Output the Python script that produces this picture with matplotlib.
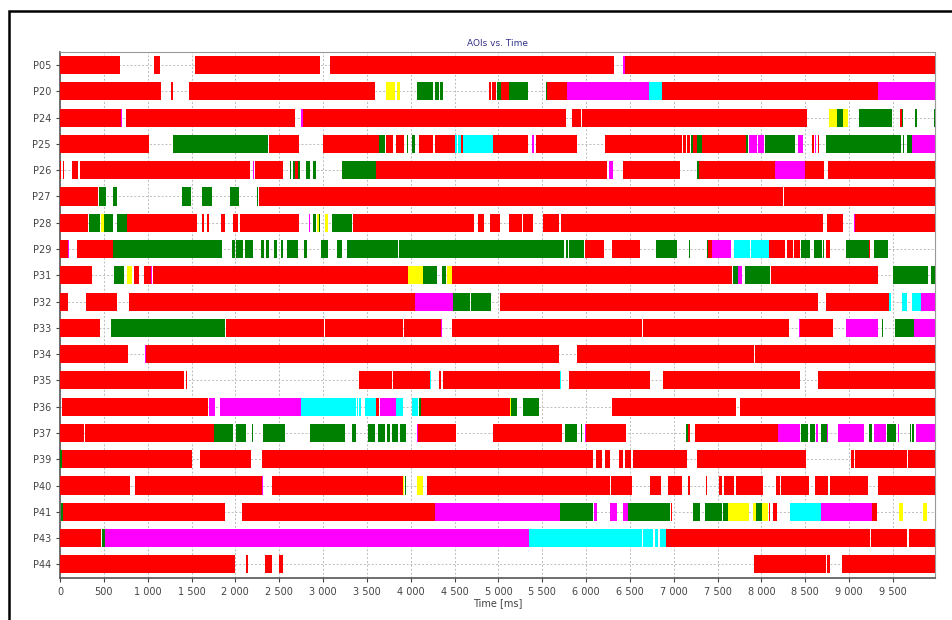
import matplotlib.pyplot as plt
from matplotlib.patches import Rectangle

# AOI colour codes
aoi_colors = {'R': '#ff0000', 'G': '#008000', 'M': '#ff00ff', 'C': '#00ffff', 'Y': '#ffff00'}

participants = ['P05', 'P20', 'P24', 'P25', 'P26', 'P27', 'P28', 'P29', 'P31', 'P32',
                'P33', 'P34', 'P35', 'P36', 'P37', 'P39', 'P40', 'P41', 'P43', 'P44']

# (start ms, end ms, AOI)
p05 = [(0, 685, 'R'), (1072, 1141, 'R'), (1540, 2966, 'R'), (3080, 6324, 'R'), (6420, 6445, 'M'), (6445, 9980, 'R')]
p20 = [(0, 1148, 'R'), (1270, 1293, 'R'), (1472, 3598, 'R'), (3720, 3822, 'Y'), (3848, 3879, 'Y'), (4075, 4259, 'G'),
       (4282, 4320, 'G'), (4335, 4365, 'G'), (4898, 4921, 'R'), (4932, 4974, 'R'), (4982, 5028, 'G'), (5031, 5126, 'R'),
       (5126, 5343, 'G'), (5544, 5555, 'G'), (5555, 5780, 'R'), (5780, 6719, 'M'), (6719, 6864, 'C'), (6864, 7112, 'R'),
       (7118, 9335, 'R'), (9335, 9980, 'M')]
p24 = [(0, 692, 'R'), (692, 705, 'M'), (753, 2685, 'R'), (2750, 2773, 'M'), (2773, 5769, 'R'), (5837, 5945, 'R'),
       (5955, 8518, 'R'), (8776, 8859, 'Y'), (8863, 8935, 'G'), (8935, 8985, 'Y'), (9115, 9487, 'G'), (9487, 9495, 'Y'),
       (9582, 9600, 'R'), (9600, 9620, 'G'), (9753, 9772, 'G'), (9965, 9980, 'G')]
p25 = [(0, 1015, 'R'), (1293, 1410, 'G'), (1418, 2369, 'G'), (2381, 2731, 'R'), (2997, 3643, 'R'), (3643, 3708, 'G'),
       (3716, 3803, 'R'), (3833, 3925, 'R'), (3955, 3970, 'G'), (4012, 4046, 'G'), (4092, 4259, 'R'), (4278, 4506, 'R'),
       (4506, 4525, 'C'), (4545, 4570, 'C'), (4575, 4594, 'R'), (4594, 4943, 'C'), (4943, 5335, 'R'), (5384, 5407, 'M'),
       (5426, 5898, 'R'), (6213, 7091, 'R'), (7105, 7140, 'R'), (7150, 7187, 'R'), (7195, 7225, 'G'), (7225, 7260, 'R'),
       (7265, 7320, 'G'), (7320, 7825, 'R'), (7830, 7850, 'G'), (7856, 7955, 'M'), (7962, 8031, 'M'), (8039, 8385, 'G'),
       (8415, 8473, 'M'), (8580, 8600, 'R'), (8610, 8625, 'M'), (8640, 8662, 'R'), (8738, 9595, 'G'), (9610, 9625, 'G'),
       (9662, 9723, 'G'), (9723, 9980, 'M')]
p26 = [(0, 12, 'R'), (30, 45, 'R'), (141, 209, 'R'), (228, 2168, 'R'), (2205, 2215, 'M'), (2225, 2548, 'R'),
       (2624, 2640, 'G'), (2655, 2680, 'G'), (2685, 2715, 'R'), (2715, 2738, 'G'), (2807, 2852, 'G'), (2890, 2917, 'G'),
       (3213, 3601, 'G'), (3601, 6236, 'R'), (6266, 6312, 'M'), (6426, 7072, 'R'), (7270, 7286, 'G'), (7286, 8157, 'R'),
       (8157, 8499, 'M'), (8499, 8716, 'R'), (8754, 9980, 'R')]
p27 = [(0, 437, 'R'), (445, 529, 'G'), (608, 646, 'G'), (1396, 1495, 'G'), (1624, 1738, 'G'), (1943, 2046, 'G'),
       (2244, 2263, 'G'), (2267, 8245, 'R'), (8260, 9980, 'R')]
p28 = [(0, 323, 'R'), (331, 456, 'G'), (468, 498, 'Y'), (506, 608, 'G'), (646, 761, 'G'), (761, 1567, 'R'),
       (1624, 1643, 'R'), (1673, 1696, 'R'), (1833, 1882, 'R'), (1978, 2027, 'R'), (2054, 2731, 'R'), (2840, 2850, 'M'),
       (2883, 2921, 'G'), (2928, 2959, 'Y'), (2959, 2970, 'G'), (3023, 3054, 'Y'), (3107, 3335, 'G'), (3347, 3624, 'R'),
       (3632, 4720, 'R'), (4773, 4838, 'R'), (4906, 5020, 'R'), (5122, 5267, 'R'), (5286, 5392, 'R'), (5506, 5696, 'R'),
       (5712, 8701, 'R'), (8746, 8936, 'R'), (9055, 9065, 'M'), (9070, 9980, 'R')]
p29 = [(0, 91, 'R'), (91, 100, 'M'), (198, 601, 'R'), (601, 1787, 'G'), (1795, 1852, 'G'), (1966, 1996, 'G'),
       (2004, 2092, 'G'), (2111, 2206, 'G'), (2297, 2327, 'G'), (2350, 2388, 'G'), (2441, 2472, 'G'), (2521, 2548, 'G'),
       (2586, 2719, 'G'), (2784, 2814, 'G'), (2974, 3054, 'G'), (3164, 3217, 'G'), (3271, 3852, 'G'), (3868, 5754, 'G'),
       (5770, 5790, 'G'), (5807, 5982, 'G'), (5989, 6210, 'R'), (6294, 6617, 'R'), (6800, 7032, 'G'), (7176, 7191, 'G'),
       (7375, 7389, 'G'), (7389, 7431, 'R'), (7435, 7656, 'M'), (7690, 7872, 'C'), (7880, 8081, 'C'), (8092, 8271, 'R'),
       (8290, 8355, 'R'), (8370, 8435, 'R'), (8454, 8557, 'G'), (8595, 8690, 'G'), (8700, 8710, 'G'), (8739, 8784, 'R'),
       (8967, 9225, 'G'), (9225, 9240, 'R'), (9280, 9439, 'G')]
p31 = [(0, 369, 'R'), (616, 730, 'G'), (764, 821, 'Y'), (844, 897, 'R'), (958, 1042, 'R'), (1042, 1055, 'M'),
       (1065, 3974, 'R'), (3974, 4145, 'Y'), (4145, 4305, 'G'), (4354, 4404, 'G'), (4412, 4469, 'Y'), (4476, 7663, 'R'),
       (7671, 7732, 'G'), (7732, 7777, 'M'), (7815, 8100, 'G'), (8108, 9329, 'R'), (9500, 9899, 'G'), (9937, 9980, 'G')]
p32 = [(0, 95, 'R'), (293, 650, 'R'), (791, 4050, 'R'), (4050, 4480, 'M'), (4480, 4678, 'G'), (4689, 4913, 'G'),
       (5020, 8644, 'R'), (8738, 9458, 'R'), (9460, 9480, 'C'), (9602, 9659, 'C'), (9716, 9823, 'C'), (9823, 9980, 'M')]
p33 = [(0, 452, 'R'), (578, 1886, 'G'), (1894, 3012, 'R'), (3027, 3917, 'R'), (3928, 4347, 'R'), (4347, 4357, 'M'),
       (4469, 6636, 'R'), (6651, 8310, 'R'), (8425, 8435, 'M'), (8435, 8811, 'R'), (8967, 9335, 'M'), (9373, 9392, 'G'),
       (9526, 9735, 'G'), (9735, 9980, 'M')]
p34 = [(0, 780, 'R'), (975, 981, 'M'), (981, 5686, 'R'), (5894, 7921, 'R'), (7932, 9980, 'R')]
p35 = [(0, 1415, 'R'), (1434, 1445, 'R'), (3415, 3784, 'R'), (3795, 4221, 'R'), (4221, 4230, 'C'), (4328, 4343, 'R'),
       (4374, 5704, 'R'), (5704, 5712, 'C'), (5803, 6731, 'R'), (6883, 8435, 'R'), (8640, 9980, 'R')]
p36 = [(23, 1692, 'R'), (1696, 1768, 'M'), (1825, 2750, 'M'), (2750, 3373, 'C'), (3385, 3395, 'C'), (3415, 3438, 'C'),
       (3480, 3601, 'C'), (3601, 3640, 'R'), (3651, 3830, 'M'), (3830, 3910, 'C'), (4020, 4088, 'C'), (4100, 4115, 'G'),
       (4115, 5134, 'R'), (5134, 5146, 'Y'), (5146, 5210, 'G'), (5278, 5469, 'G'), (6301, 7708, 'R'), (7757, 9980, 'R')]
p37 = [(0, 274, 'R'), (285, 1761, 'R'), (1761, 1978, 'G'), (2008, 2122, 'G'), (2187, 2198, 'G'), (2320, 2571, 'G'),
       (2852, 3255, 'G'), (3328, 3377, 'G'), (3510, 3594, 'G'), (3624, 3708, 'G'), (3727, 3765, 'G'), (3784, 3860, 'G'),
       (3879, 3947, 'G'), (4075, 4084, 'M'), (4084, 4514, 'R'), (4944, 5723, 'R'), (5757, 5894, 'G'), (5940, 5951, 'G'),
       (5990, 5997, 'M'), (5997, 6453, 'R'), (7140, 7160, 'G'), (7160, 7180, 'R'), (7244, 8195, 'R'), (8195, 8442, 'M'),
       (8454, 8526, 'G'), (8549, 8606, 'G'), (8625, 8651, 'M'), (8682, 8746, 'G'), (8752, 8762, 'M'), (8875, 9172, 'M'),
       (9225, 9267, 'G'), (9279, 9420, 'M'), (9432, 9538, 'G'), (9560, 9575, 'M'), (9690, 9710, 'G'), (9715, 9735, 'G'),
       (9761, 9980, 'M')]
p39 = [(0, 5, 'M'), (5, 27, 'G'), (27, 1502, 'R'), (1601, 2175, 'R'), (2305, 6077, 'R'), (6111, 6187, 'R'),
       (6218, 6275, 'R'), (6377, 6419, 'R'), (6449, 6518, 'R'), (6530, 7157, 'R'), (7260, 7271, 'M'), (7271, 8511, 'R'),
       (8895, 8902, 'R'), (9024, 9058, 'R'), (9066, 9260, 'R'), (9266, 9665, 'R'), (9672, 9980, 'R')]
p40 = [(0, 799, 'R'), (859, 2308, 'R'), (2308, 2320, 'M'), (2423, 3917, 'R'), (3917, 3925, 'Y'), (3930, 3945, 'G'),
       (4077, 4145, 'Y'), (4183, 6275, 'R'), (6282, 6526, 'R'), (6728, 6857, 'R'), (6933, 7100, 'R'), (7168, 7183, 'R'),
       (7370, 7378, 'R'), (7522, 7545, 'R'), (7575, 7693, 'R'), (7705, 8023, 'R'), (8168, 8207, 'R'), (8222, 8538, 'R'),
       (8614, 8754, 'R'), (8777, 9211, 'R'), (9326, 9980, 'R')]
p41 = [(10, 30, 'G'), (30, 1886, 'R'), (2073, 4278, 'R'), (4278, 5704, 'M'), (5704, 6077, 'G'), (6096, 6130, 'M'),
       (6274, 6358, 'M'), (6426, 6480, 'M'), (6480, 6959, 'G'), (6966, 6982, 'R'), (7218, 7298, 'G'), (7362, 7549, 'G'),
       (7557, 7614, 'G'), (7614, 7864, 'Y'), (7902, 7940, 'Y'), (7940, 8012, 'G'), (8012, 8073, 'Y'), (8090, 8100, 'R'),
       (8130, 8176, 'R'), (8328, 8678, 'C'), (8678, 9267, 'M'), (9267, 9317, 'R'), (9564, 9613, 'Y'), (9841, 9887, 'Y')]
p43 = [(0, 468, 'R'), (483, 517, 'G'), (517, 5354, 'M'), (5354, 6636, 'C'), (6655, 6762, 'C'), (6792, 6822, 'C'),
       (6841, 6910, 'C'), (6910, 9233, 'R'), (9248, 9659, 'R'), (9689, 9980, 'R')]
p44 = [(0, 1993, 'R'), (2118, 2149, 'R'), (2343, 2415, 'R'), (2495, 2548, 'R'), (7917, 8735, 'R'), (8746, 8784, 'R'),
       (8921, 9980, 'R')]

rows = [p05, p20, p24, p25, p26, p27, p28, p29, p31, p32, p33, p34, p35, p36, p37, p39, p40, p41, p43, p44]

x_ticks = list(range(0, 10000, 500))
x_tick_labels = ['0', '500', '1 000', '1 500', '2 000', '2 500', '3 000', '3 500', '4 000', '4 500',
                 '5 000', '5 500', '6 000', '6 500', '7 000', '7 500', '8 000', '8 500', '9 000', '9 500']

plt.rcParams['font.family'] = ['DejaVu Sans']
fig = plt.figure(figsize=(9.52, 6.2), dpi=100, facecolor='white')
ax = fig.add_axes([60 / 952, 1 - 578 / 620, 875 / 952, (578 - 51.7) / 620])

bar_h = 0.69
for i, segs in enumerate(rows):
    for code, col in aoi_colors.items():
        spans = [(s, e - s) for s, e, c in segs if c == code]
        if spans:
            ax.broken_barh(spans, (i - bar_h / 2, bar_h), facecolors=col, edgecolor='none', zorder=3)

ax.set_xlim(0, 9980)
ax.set_ylim(len(participants) - 0.48, -0.51)
ax.set_yticks(range(len(participants)))
ax.set_yticklabels(participants)
ax.set_xticks(x_ticks)
ax.set_xticklabels(x_tick_labels)
ax.tick_params(labelsize=7, colors='#444444', length=3, width=0.8)
ax.grid(True, color='#bbbbbb', ls=(0, (2, 2)), lw=0.7, zorder=0)
ax.set_axisbelow(True)
for side in ['top', 'right']:
    ax.spines[side].set_color('#999999')
for side in ['left', 'bottom']:
    ax.spines[side].set_color('#555555')
    ax.spines[side].set_linewidth(1.2)

ax.set_title('AOIs vs. Time', fontsize=6.5, color='#333388', pad=4)
ax.set_xlabel('Time [ms]', fontsize=7, color='#444444', labelpad=1)

# outer frame of the exported panel
fig.add_artist(Rectangle((9 / 952, -0.2), 2.0, 1.2 + 1 - 11 / 620 - 1, transform=fig.transFigure,
                         fill=False, edgecolor='black', lw=1.8))

fig.savefig('out.png', dpi=100)
